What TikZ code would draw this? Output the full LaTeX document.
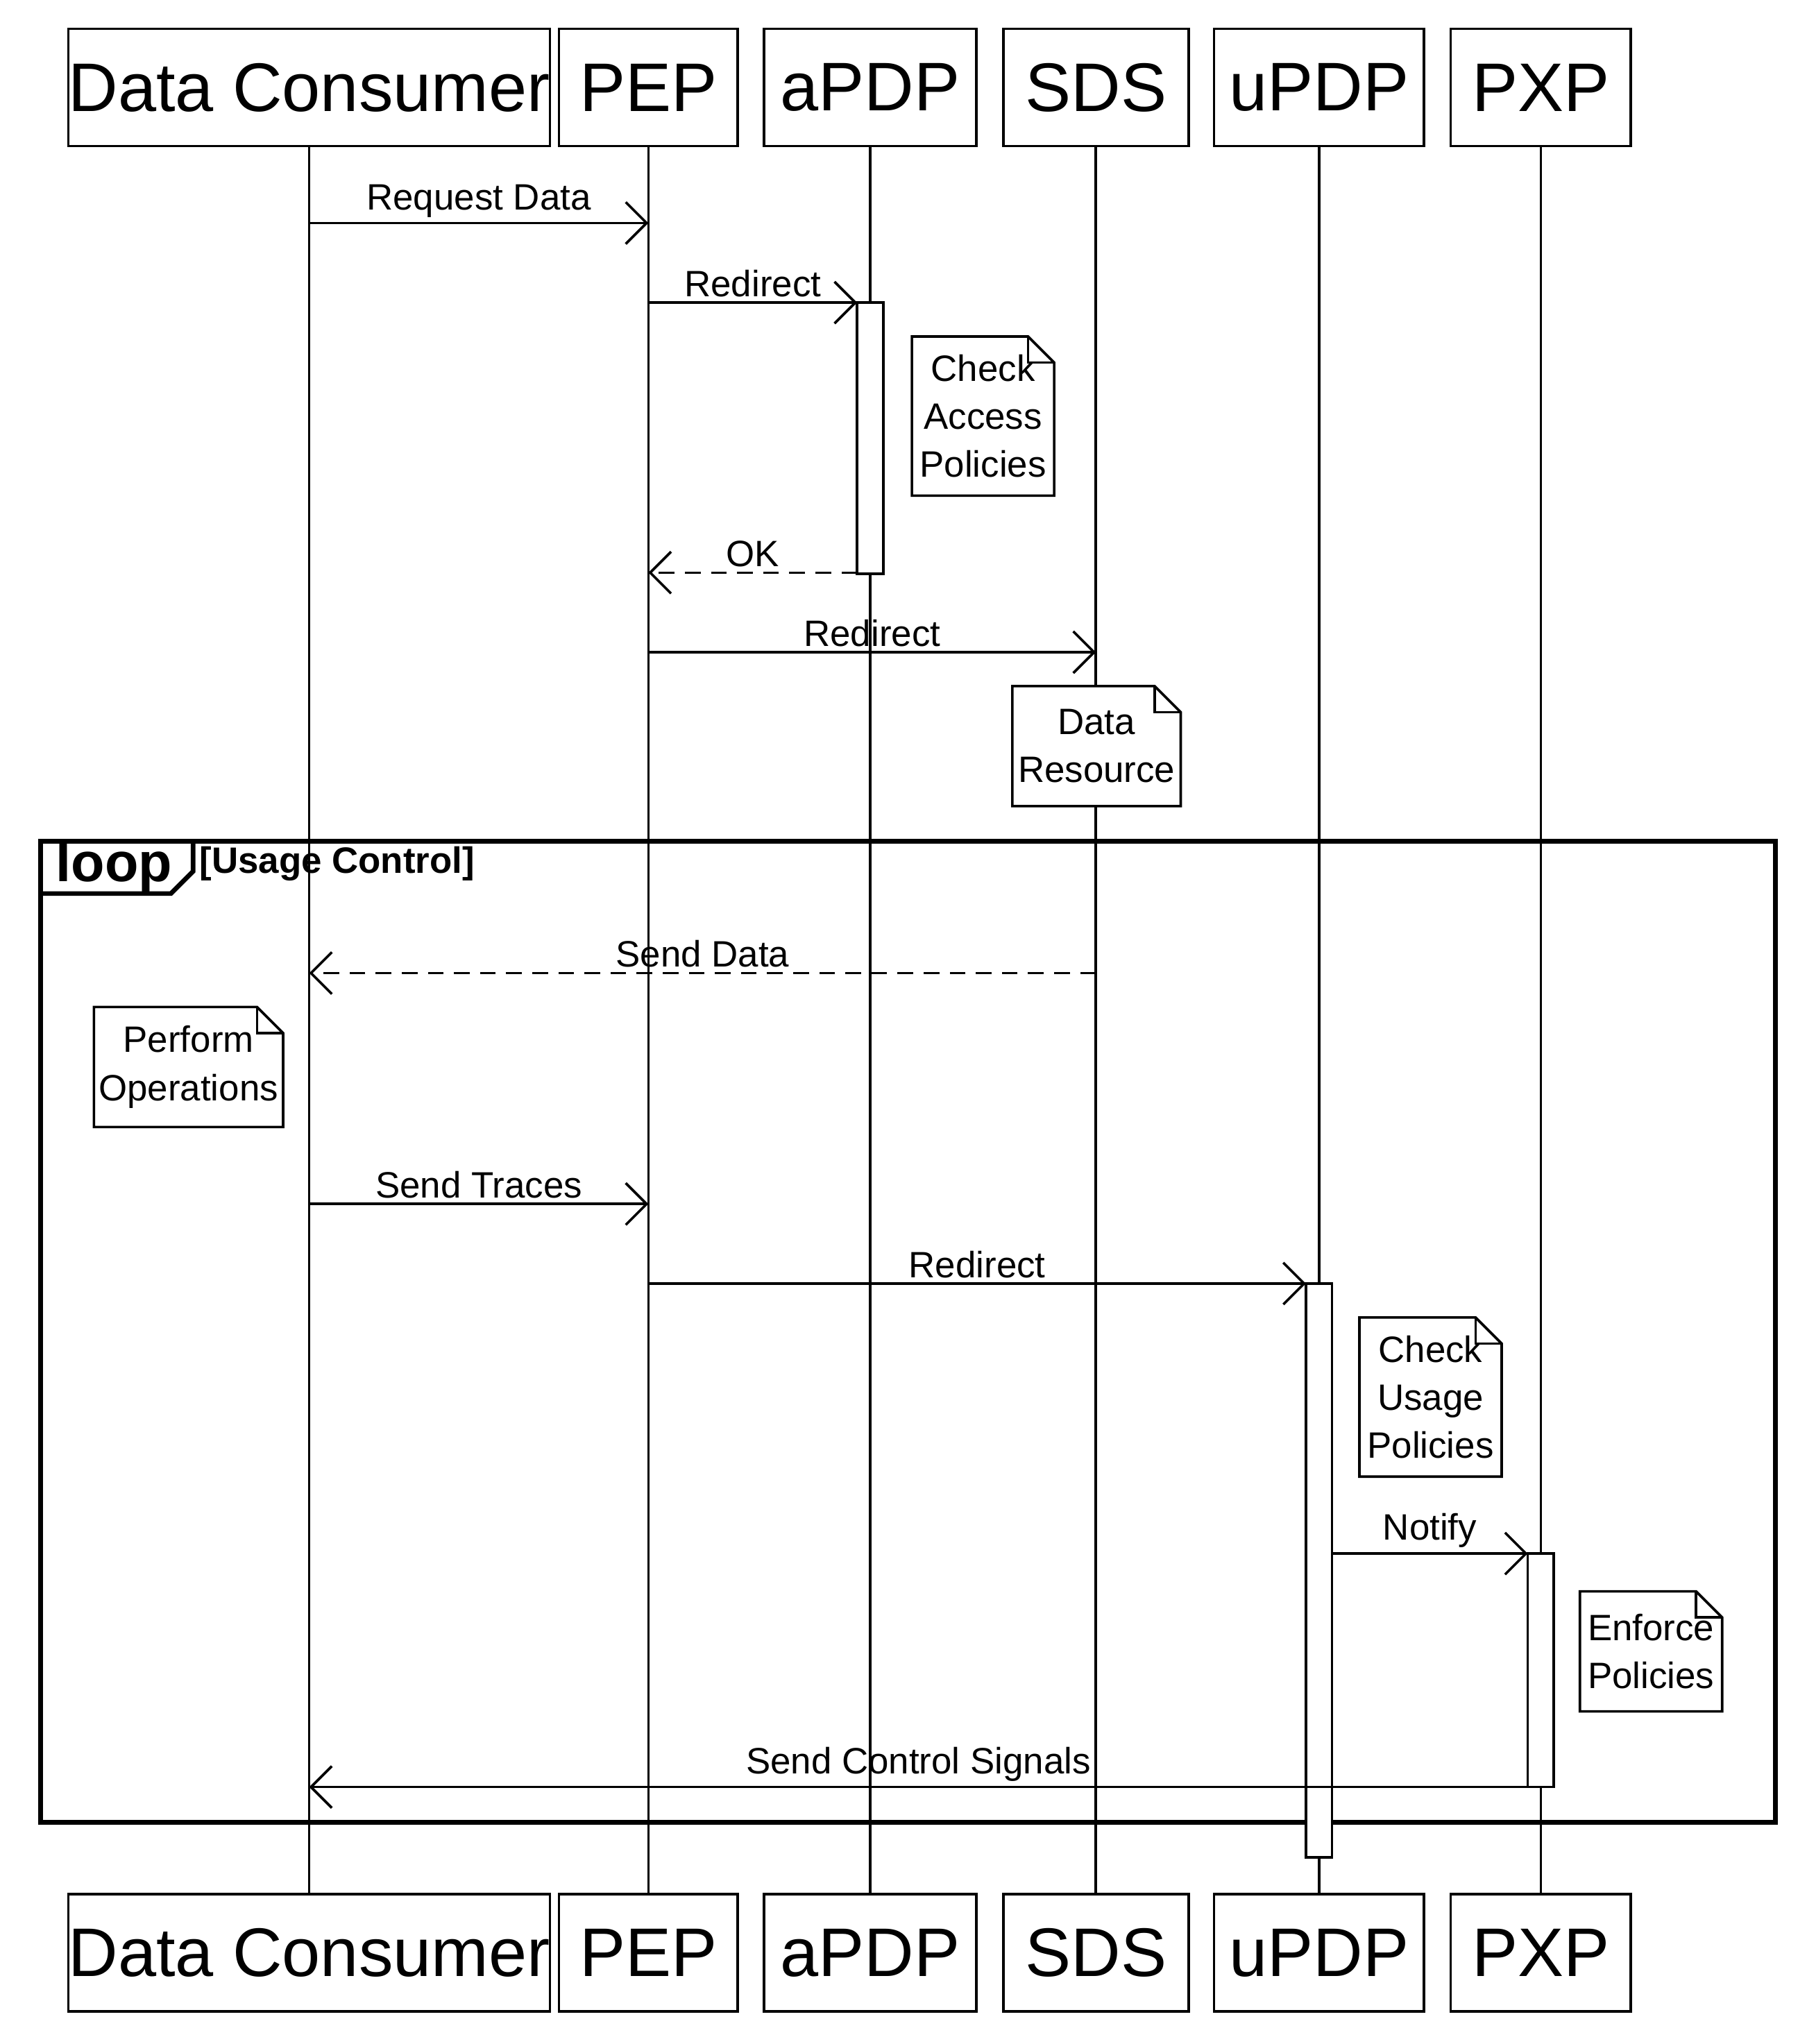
\documentclass[tikz,border=0pt]{standalone}
\usepackage{fontspec}
\setmainfont{Liberation Sans}
\usetikzlibrary{arrows.meta,calc}
\begin{document}
\begin{tikzpicture}[x=0.1mm,y=-0.1mm,line width=0.55pt,
 head/.style={draw,minimum height=9mm,font=\fontsize{15}{18}\selectfont,inner sep=0pt},
 msg/.style={-{Straight Barb[length=1.6mm,width=3.2mm,line width=0.55pt]}},
 rep/.style={msg,dash pattern=on 1.2mm off 0.8mm},
 lbl/.style={font=\fontsize{8}{9}\selectfont,inner sep=1pt,anchor=south},
 act/.style={draw,fill=white},
 ntxt/.style={font=\fontsize{8}{10.5}\selectfont,align=center}]
\useasboundingbox (0,0) rectangle (1385,1567);
\fill[white] (0,0) rectangle (1385,1567);
\def\note#1#2#3#4#5{\draw[fill=white] (#1,#2) -- (#4-20,#2) -- (#4,#2+20) -- (#4,#3) -- (#1,#3) -- cycle;
 \draw (#4-20,#2) -- (#4-20,#2+20) -- (#4,#2+20);
 \node[ntxt] at ({(#1+#4)/2},{(#2+#3)/2}) {#5};}
% lifelines
\foreach \n/\x/\w in {dc/237/341,pep/497/137,apdp/667/163,sds/840/142,updp/1011/161,pxp/1181/138}{
  \coordinate (\n t) at (\x,112); \coordinate (\n b) at (\x,1452);
  \draw (\n t) -- (\n b);}
\foreach \n/\x/\w/\t in {dc/237/341/Data Consumer,pep/497/137/PEP,apdp/667/163/aPDP,sds/840/142/SDS,updp/1011/161/uPDP,pxp/1181/138/PXP}{
  \node[head,minimum width=\w*0.1mm] (\n H) at (\x,67) {\t};
  \node[head,minimum width=\w*0.1mm] (\n F) at (\x,1497) {\t};}
% loop frame
\draw[line width=1pt] (31,645) rectangle (1361,1397);
\draw[line width=1pt] (31,685) -- (131,685) -- (148,668) -- (148,645);
\node[font=\bfseries\fontsize{12}{14}\selectfont,anchor=west,inner sep=0pt] (loopl) at (42,665) {loop};
\node[font=\bfseries\fontsize{8}{9}\selectfont,anchor=west,inner sep=0pt] (guard) at (152,662) {[Usage Control]};
% activations
\draw[act] (657,232) rectangle (677,440);
\draw[act] (1001,984) rectangle (1021,1424);
\draw[act] (1171,1191) rectangle (1191,1370);
% notes
\note{699}{258}{380}{808}{Check\\Access\\Policies}
\note{776}{526}{618}{905}{Data\\Resource}
\note{72}{772}{864}{217}{Perform\\Operations}
\note{1042}{1010}{1132}{1151}{Check\\Usage\\Policies}
\note{1211}{1220}{1312}{1320}{Enforce\\Policies}
% messages
\coordinate (m1a) at (237,171); \coordinate (m1b) at (497,171);
\draw[msg] (m1a) -- node[lbl,pos=0.5]{Request Data} (m1b);
\coordinate (m2a) at (497,232); \coordinate (m2b) at (657,232);
\draw[msg] (m2a) -- node[lbl]{Redirect} (m2b);
\coordinate (m3a) at (657,439); \coordinate (m3b) at (497,439);
\draw[rep] (m3a) -- node[lbl]{OK} (m3b);
\coordinate (m4a) at (497,500); \coordinate (m4b) at (840,500);
\draw[msg] (m4a) -- node[lbl]{Redirect} (m4b);
\coordinate (m5a) at (840,746); \coordinate (m5b) at (237,746);
\draw[rep] (m5a) -- node[lbl]{Send Data} (m5b);
\coordinate (m6a) at (237,923); \coordinate (m6b) at (497,923);
\draw[msg] (m6a) -- node[lbl]{Send Traces} (m6b);
\coordinate (m7a) at (497,984); \coordinate (m7b) at (1001,984);
\draw[msg] (m7a) -- node[lbl]{Redirect} (m7b);
\coordinate (m8a) at (1021,1191); \coordinate (m8b) at (1171,1191);
\draw[msg] (m8a) -- node[lbl]{Notify} (m8b);
\coordinate (m9a) at (1171,1370); \coordinate (m9b) at (237,1370);
\draw[msg] (m9a) -- node[lbl]{Send Control Signals} (m9b);
\end{tikzpicture}
\end{document}
